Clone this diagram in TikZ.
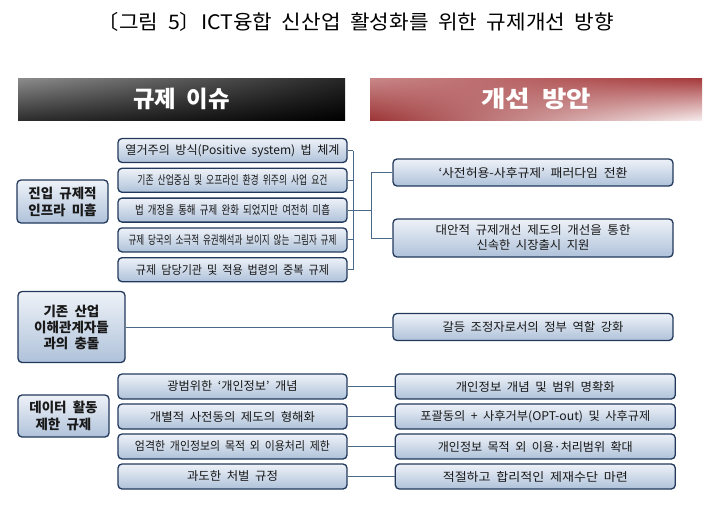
\documentclass[tikz,border=0pt]{standalone}
\usepackage{fontspec}
\usepackage{graphicx}
\setmainfont{Noto Sans CJK KR}[WordSpace=2]
\usetikzlibrary{positioning}
\usetikzlibrary{shadings}
\definecolor{boxline}{HTML}{22395C}
\definecolor{boxtop}{HTML}{EEF2F8}
\definecolor{boxbot}{HTML}{AFC2DA}
\definecolor{linkline}{HTML}{4A6888}
\definecolor{barred}{HTML}{A5383A}
\newcommand{\fitw}[2]{\resizebox{#1pt}{\height}{#2}}
\tikzset{issuebox/.style={rectangle, rounded corners=4pt, draw=boxline, line width=1.3pt, top color=boxtop, bottom color=boxbot, minimum width=229pt, minimum height=24pt, inner sep=0pt, text=black!90, font=\fontsize{12}{15}\selectfont}}
\tikzset{fixbox/.style={issuebox, minimum width=280pt}}
\tikzset{topicbox/.style={issuebox, minimum width=91pt, minimum height=43pt, align=center, font=\bfseries\fontsize{13.5}{17}\selectfont}}
\tikzset{headbar/.style={rectangle, minimum height=42pt, inner sep=0pt, text=white, font=\bfseries\fontsize{23}{26}\selectfont}}
\tikzset{link/.style={draw=linkline, line width=1pt}}

\begin{document}
\begin{tikzpicture}[x=1pt,y=-1pt]
    \useasboundingbox (0,0) rectangle (720,506);

    \node (title) at (356,22) {\fitw{516}{\fontsize{20}{24}\selectfont 〔그림 5〕ICT융합 신산업 활성화를 위한 규제개선 방향}};

    % headers
    \node[headbar, minimum width=327pt, upper left=black!45, upper right=black!85, lower left=black!82, lower right=black] (issuehead) at (181.5,99) {\fitw{97}{규제 이슈}};
    \node[headbar, minimum width=332pt, upper left=barred!60, upper right=barred, lower left=barred!95!black, lower right=barred!10] (fixhead) at (536,99) {\fitw{110}{개선 방안}};

    % entry regulation
    \node[topicbox]                            (entry)    at (62.5,201.5) {진입 규제적\\인프라 미흡};
    \node[issuebox]                            (entry1)   at (232.5,150.5) {\fitw{214}{열거주의 방식(Positive system) 법 체계}};
    \node[issuebox]                            (entry2)   [below=4.5pt of entry1] {\fitw{190}{기존 산업중심 및 오프라인 환경 위주의 사업 요건}};
    \node[issuebox]                            (entry3)   [below=4.5pt of entry2] {\fitw{195}{법 개정을 통해 규제 완화 되었지만 여전히 미흡}};
    \node[issuebox]                            (entry4)   [below=4.5pt of entry3] {\fitw{208}{규제 당국의 소극적 유권해석과 보이지 않는 그림자 규제}};
    \node[issuebox]                            (entry5)   [below=4.5pt of entry4] {\fitw{193}{규제 담당기관 및 적용 법령의 중복 규제}};
    \node[fixbox, minimum height=27pt]         (entryfix1) at (533,172.5) {\fitw{189}{‘사전허용-사후규제’ 패러다임 전환}};
    \node[fixbox, minimum height=38pt, align=center] (entryfix2) at (533,238) {\fitw{195}{대안적 규제개선 제도의 개선을 통한}\\\fitw{113}{신속한 시장출시 지원}};

    \coordinate (spine) at (353,0);
    \coordinate (fork)  at (371,0);
    \foreach \n in {entry1,entry2,entry3,entry4,entry5}
        \draw[link] (\n.east) -- (\n.east -| spine);
    \draw[link] (entry1.east -| spine) -- (entry5.east -| spine);
    \draw[link] (entry3.east -| spine) -- (entry3.east -| fork);
    \draw[link] (entryfix1.west -| fork) -- (entryfix2.west -| fork);
    \foreach \n in {entryfix1,entryfix2}
        \draw[link] (\n.west -| fork) -- (\n.west);

    % conflict
    \node[topicbox, minimum width=107pt, minimum height=71pt, font=\bfseries\fontsize{13.5}{16}\selectfont] (conflict) at (71.5,327) {기존 산업\\이해관계자들\\과의 충돌};
    \node[fixbox, minimum height=27pt]         (conflictfix) at (533,327) {\fitw{181}{갈등 조정자로서의 정부 역할 강화}};
    \draw[link] (conflict.east) -- (conflictfix.west);

    % data
    \node[topicbox, minimum height=42pt]       (data)     at (63.5,416) {데이터 활동\\제한 규제};
    \node[issuebox, minimum height=25pt]       (data1)    at (232.5,386.5) {\fitw{130}{광범위한 ‘개인정보’ 개념}};
    \node[issuebox, minimum height=25pt]       (data2)    [below=3.7pt of data1] {\fitw{165}{개별적 사전동의 제도의 형해화}};
    \node[issuebox, minimum height=25pt]       (data3)    [below=3.7pt of data2] {\fitw{195}{엄격한 개인정보의 목적 외 이용처리 제한}};
    \node[issuebox, minimum height=25pt]       (data4)    [below=3.7pt of data3] {\fitw{91}{과도한 처벌 규정}};
    \node[fixbox, minimum height=25pt]         (datafix1) [right=47pt of data1] {\fitw{159}{개인정보 개념 및 범위 명확화}};
    \node[fixbox, minimum height=25pt]         (datafix2) [right=47pt of data2] {\fitw{230}{포괄동의 + 사후거부(OPT-out) 및 사후규제}};
    \node[fixbox, minimum height=25pt]         (datafix3) [right=47pt of data3] {\fitw{195}{개인정보 목적 외 이용·처리범위 확대}};
    \node[fixbox, minimum height=25pt]         (datafix4) [right=47pt of data4] {\fitw{185}{적절하고 합리적인 제재수단 마련}};

    \foreach \n in {1,2,3,4}
        \draw[link] (data\n.east) -- (datafix\n.west);
\end{tikzpicture}
\end{document}
